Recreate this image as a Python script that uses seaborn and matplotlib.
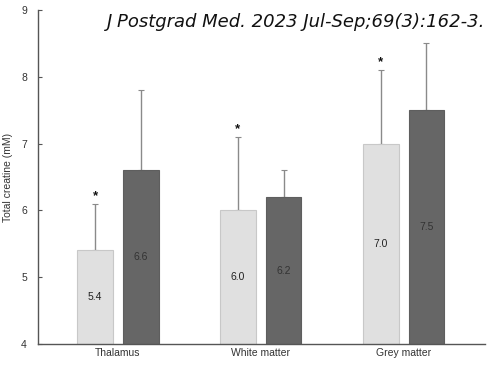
import numpy as np
import pandas as pd
import seaborn as sns
import matplotlib.pyplot as plt

regions = ['Thalamus', 'White matter', 'Grey matter']
groups = ['A', 'B']
means_a = [5.4, 6.0, 7.0]
means_b = [6.6, 6.2, 7.5]
sd_a = [0.7, 1.1, 1.1]
sd_b = [1.2, 0.4, 1.0]
labels_a = ['5.4', '6.0', '7.0']
labels_b = ['6.6', '6.2', '7.5']
star = ['*', '*', '*']
citation = 'J Postgrad Med. 2023 Jul-Sep;69(3):162-3.'

df = pd.DataFrame({
    'region': regions * 2,
    'group': [groups[0]] * 3 + [groups[1]] * 3,
    'value': means_a + means_b,
})

sns.set_style('white')
plt.rcParams['font.family'] = ['Liberation Sans', 'DejaVu Sans']

fig = plt.figure(figsize=(4.9, 3.67), dpi=100)
ax = fig.add_axes([38 / 490, 1 - 344 / 367, 447 / 490, 334 / 367])

sns.barplot(data=df, x='region', y='value', hue='group', order=regions,
            hue_order=groups, palette=['#e0e0e0', '#666666'],
            width=0.64, gap=0.22, errorbar=None, legend=False, ax=ax,
            edgecolor='#c8c8c8', linewidth=0.8, zorder=2)

# color dark bar edges to match fill
bars = ax.patches
for p in bars[3:6]:
    p.set_edgecolor('#5e5e5e')

# error bars (upper only), stars and value labels
for i, p in enumerate(bars[:6]):
    cx = p.get_x() + p.get_width() / 2
    h = p.get_height()
    k = i % 3
    sd = sd_a[k] if i < 3 else sd_b[k]
    txt = labels_a[k] if i < 3 else labels_b[k]
    ax.errorbar(cx, h, yerr=[[0], [sd]], fmt='none', ecolor='#8a8a8a',
                elinewidth=1, capsize=2, capthick=0.8, zorder=1)
    ax.text(cx, (4 + h) / 2, txt, ha='center', va='center', fontsize=7.5,
            color='#222222' if i < 3 else '#333333', zorder=3)
    if i < 3:
        ax.text(cx, h + sd + 0.12, star[k], ha='center', va='center',
                fontsize=9.5, color='#111111', fontweight='bold')

ax.set_ylim(4, 9)
ax.set_xlim(-0.56, 2.57)
ax.set_yticks([4, 5, 6, 7, 8, 9])
ax.set_xlabel('')
ax.set_ylabel('Total creatine (mM)', fontsize=7.5, color='#333333', labelpad=6)
ax.tick_params(axis='y', direction='in', length=3, width=0.8, color='#555555',
               labelsize=7.5, labelcolor='#333333', pad=8, left=True)
ax.tick_params(axis='x', length=0, labelsize=7.5, labelcolor='#333333', pad=3)
for s in ['top', 'right']:
    ax.spines[s].set_visible(False)
for s in ['left', 'bottom']:
    ax.spines[s].set_color('#555555')
    ax.spines[s].set_linewidth(1.0)

fig.text(485 / 490, 1 - 22 / 367, citation, ha='right', va='center',
         fontsize=13, style='italic', family=['DejaVu Sans'],
         color='#111111', fontweight='light')

fig.savefig('out.png', dpi=100)
